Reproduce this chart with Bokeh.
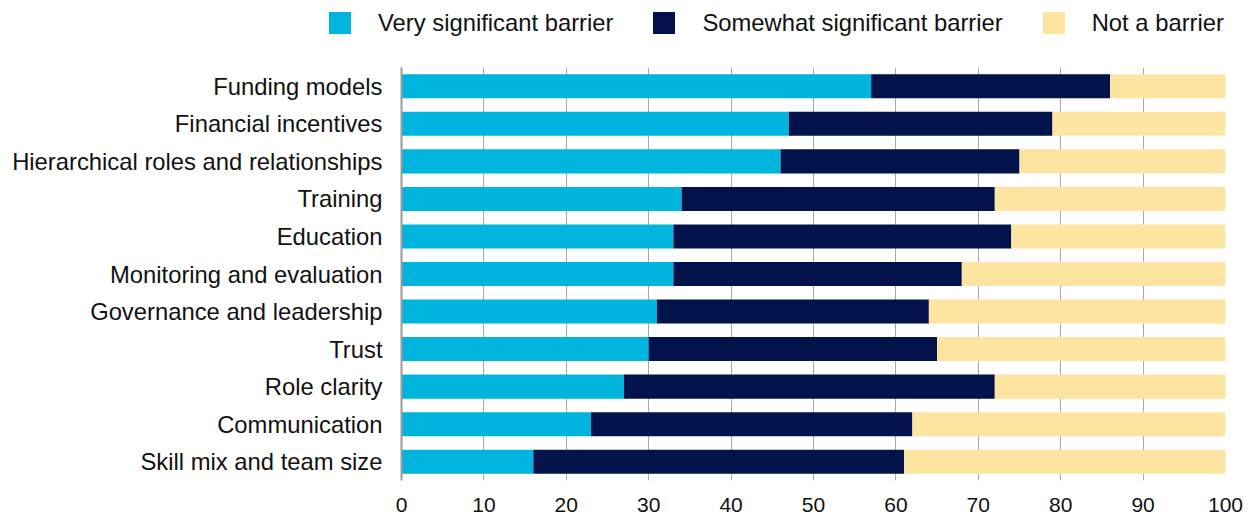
from bokeh.plotting import figure
from bokeh.layouts import column
from bokeh.models import ColumnDataSource, FactorRange, Range1d, FixedTicker, Div
from bokeh.embed import file_html
from bokeh.resources import INLINE

# Barriers, top to bottom
barriers = [
    "Funding models",
    "Financial incentives",
    "Hierarchical roles and relationships",
    "Training",
    "Education",
    "Monitoring and evaluation",
    "Governance and leadership",
    "Trust",
    "Role clarity",
    "Communication",
    "Skill mix and team size",
]

# Share of respondents (%) per answer
very_significant = [57, 47, 46, 34, 33, 33, 31, 30, 27, 23, 16]
somewhat_significant = [29, 32, 29, 38, 41, 35, 33, 35, 45, 39, 45]
not_a_barrier = [14, 21, 25, 28, 26, 32, 36, 35, 28, 38, 39]

series_names = ["Very significant barrier", "Somewhat significant barrier", "Not a barrier"]
series_keys = ["very", "somewhat", "not"]
series_colors = ["#00B5DD", "#02134C", "#FDE4A0"]
x_ticks = [0, 10, 20, 30, 40, 50, 60, 70, 80, 90, 100]

FONT = "Liberation Sans"
TEXT_COLOR = "#111111"

source = ColumnDataSource(data=dict(
    barrier=barriers,
    very=very_significant,
    somewhat=somewhat_significant,
    **{"not": not_a_barrier},
))

# ---- main stacked bar chart ----
p = figure(
    width=1254, height=454,
    y_range=FactorRange(factors=barriers[::-1]),
    x_range=Range1d(0, 100),
    output_backend="svg", toolbar_location=None,
    min_border_left=401, min_border_right=29,
    min_border_top=0, min_border_bottom=41,
)
p.outline_line_color = None
p.background_fill_color = "white"
p.border_fill_color = "white"

p.hbar_stack(series_keys, y="barrier", height=0.64,
             color=series_colors, line_color=None, source=source)

p.xaxis.ticker = FixedTicker(ticks=x_ticks)
p.xaxis.axis_line_color = None
p.xaxis.major_tick_line_color = None
p.xaxis.minor_tick_line_color = None
p.xaxis.major_tick_out = 0
p.xaxis.major_label_standoff = 17
p.xaxis.major_label_text_font = FONT
p.xaxis.major_label_text_font_size = "21px"
p.xaxis.major_label_text_color = TEXT_COLOR

p.yaxis.axis_line_color = "#9a9a9a"
p.yaxis.axis_line_width = 2
p.yaxis.major_tick_line_color = None
p.yaxis.minor_tick_line_color = None
p.yaxis.major_tick_out = 0
p.yaxis.major_label_standoff = 19
p.yaxis.major_label_text_font = FONT
p.yaxis.major_label_text_font_size = "23.8px"
p.yaxis.major_label_text_color = TEXT_COLOR

p.xgrid.grid_line_color = "#a8a8a8"
p.xgrid.grid_line_width = 1
p.ygrid.grid_line_color = None

# ---- legend strip above the chart ----
item_html = []
for i, (name, color) in enumerate(zip(series_names, series_colors)):
    gap = "0" if i == len(series_names) - 1 else "40px"
    item_html.append(
        f'<span style="display:inline-block;width:22px;height:22px;'
        f'background:{color};margin-right:27px;flex:none"></span>'
        f'<span style="margin-right:{gap};line-height:22px">{name}</span>'
    )
legend_html = (
    f'<div style="display:flex;align-items:center;height:22px;'
    f'margin:12px 0 0 329px;font-family:\'{FONT}\';font-size:23.8px;'
    f'color:{TEXT_COLOR};white-space:nowrap">' + "".join(item_html) + "</div>"
)
legend_strip = Div(text=legend_html, width=1254, height=67, margin=(0, 0, 0, 0))

layout = column(legend_strip, p, spacing=0)

open("out.html", "w").write(file_html(layout, INLINE))
